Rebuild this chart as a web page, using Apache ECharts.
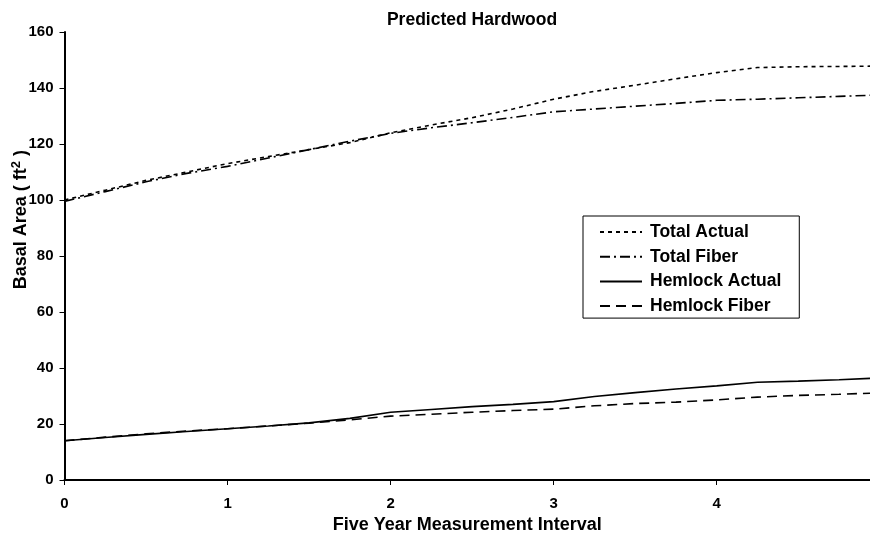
<!DOCTYPE html>
<html><head><meta charset="utf-8">
<script src="https://cdn.jsdelivr.net/npm/echarts@6/dist/echarts.min.js"></script>
<style>html,body{margin:0;padding:0;background:#fff}#c{width:870px;height:540px}</style>
</head><body><div id="c"></div>
<script>
const xValues = [0,0.25,0.5,0.75,1,1.25,1.5,1.75,2,2.25,2.5,2.75,3,3.25,3.5,3.75,4,4.25,4.5,4.75,4.94];
const totalActual = [100,103.5,107,110,113,115.5,118,120.5,124,126.8,129.4,132.5,136,138.8,141,143.3,145.5,147.3,147.6,147.7,147.8];
const totalFiber = [99.5,103,106.5,109.5,112,115,118,121,123.8,125.8,127.6,129.5,131.5,132.5,133.5,134.5,135.6,136,136.5,137,137.4];
const hemlockActual = [14,15.2,16.3,17.3,18.3,19.3,20.4,22,24.2,25.2,26.2,27,28,29.8,31.2,32.5,33.6,34.9,35.3,35.8,36.3];
const hemlockFiber = [14,15.3,16.5,17.5,18.3,19.3,20.3,21.5,22.8,23.5,24.2,24.8,25.3,26.5,27.3,27.8,28.6,29.6,30.2,30.6,31];
const seriesNames = ['Total Actual','Total Fiber','Hemlock Actual','Hemlock Fiber'];
const yTicks = [0,20,40,60,80,100,120,140,160];
const xMax = 4.94;

const pair = arr => xValues.map((x,i)=>[x,arr[i]]);
const font = '"Liberation Sans", Arial, sans-serif';
const styles = [[4,4],[10,4,2,4],'solid',[10,6]];
const datas = [totalActual,totalFiber,hemlockActual,hemlockFiber];

const chart = echarts.init(document.getElementById('c'));
chart.setOption({
  animation:false,
  title:{text:'Predicted Hardwood',left:467,textAlign:'center',top:6,
    textStyle:{fontFamily:font,fontWeight:'bold',fontSize:17.5,color:'#000'}},
  grid:{left:64.5,right:0,top:32,bottom:60,containLabel:false,outerBoundsMode:'none'},
  legend:{
    orient:'vertical',left:583,top:216,
    backgroundColor:'#fff',borderColor:'#000',borderWidth:1,
    padding:[7,18,3,16],itemGap:6.7,itemWidth:42,itemHeight:18,
    itemStyle:{opacity:0},
    textStyle:{fontFamily:font,fontWeight:'bold',fontSize:17.5,color:'#000',padding:[0,0,0,3]},
    data:seriesNames
  },
  graphic:[{type:'text',left:10,top:150,rotation:Math.PI/2,
    style:{text:'{a|Basal Area ( ft}{s|2}{a| )}',rich:{
      a:{fontFamily:font,fontWeight:'bold',fontSize:18,fill:'#000'},
      s:{fontFamily:font,fontWeight:'bold',fontSize:13,fill:'#000',verticalAlign:'bottom',padding:[0,0,9,0]}}}}],
  xAxis:{type:'value',min:0,max:xMax,interval:1,
    name:'Five Year Measurement Interval',nameLocation:'middle',nameGap:35,
    nameTextStyle:{fontFamily:font,fontWeight:'bold',fontSize:18,color:'#000'},
    axisLine:{lineStyle:{color:'#000',width:2}},
    axisTick:{show:true,length:5,lineStyle:{color:'#000',width:1}},
    axisLabel:{fontFamily:font,fontWeight:'bold',fontSize:15,color:'#000',margin:16,showMaxLabel:false},
    splitLine:{show:false}},
  yAxis:{type:'value',min:yTicks[0],max:yTicks[yTicks.length-1],interval:20,
    axisLine:{show:true,lineStyle:{color:'#000',width:2}},
    axisTick:{show:true,length:5,lineStyle:{color:'#000',width:1}},
    axisLabel:{fontFamily:font,fontWeight:'bold',fontSize:15,color:'#000',margin:11},
    splitLine:{show:false}},
  series:seriesNames.map((n,i)=>({
    name:n,type:'line',data:pair(datas[i]),symbol:'none',showSymbol:false,
    lineStyle:{color:'#000',width:1.6,type:styles[i]},itemStyle:{color:'#000'}
  }))
});
</script></body></html>
